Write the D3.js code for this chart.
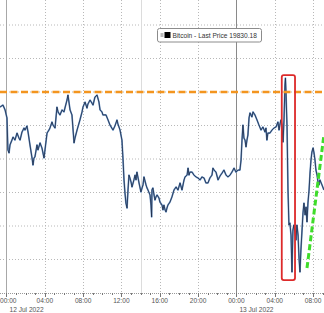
<!DOCTYPE html>
<html>
<head>
<meta charset="utf-8">
<script src="https://cdn.jsdelivr.net/npm/d3@7"></script>
<style>
  html, body { margin: 0; padding: 0; background: #fff; }
  svg { display: block; }
</style>
</head>
<body>
<div id="chart"></div>
<script>
// minutes after 12 Jul 2022 00:00 and Bitcoin last price
const minutes = [-41,-22,-9,3,9,16,22,34,41,53,66,78,85,97,110,116,128,135,147,160,166,172,178,191,197,210,222,235,241,254,266,272,285,291,304,316,323,335,348,360,366,379,385,398,410,423,429,442,460,473,479,492,504,510,523,535,542,554,567,579,586,598,604,623,636,648,667,679,692,698,711,717,723,730,736,742,748,755,761,767,773,780,786,798,805,811,817,824,830,842,849,855,861,874,880,886,899,905,909,911,917,924,930,936,943,955,961,974,980,986,993,999,1005,1011,1024,1036,1049,1062,1074,1087,1099,1112,1118,1131,1137,1143,1149,1162,1174,1187,1199,1212,1224,1237,1249,1262,1274,1287,1293,1300,1312,1325,1337,1350,1362,1375,1387,1400,1412,1425,1437,1450,1462,1469,1475,1481,1487,1494,1500,1506,1512,1519,1525,1537,1544,1556,1569,1581,1594,1606,1619,1625,1631,1637,1650,1663,1675,1688,1700,1707,1713,1719,1725,1732,1738,1744,1747,1750,1757,1763,1769,1775,1782,1788,1794,1800,1807,1813,1819,1826,1832,1838,1844,1851,1857,1863,1870,1876,1882,1888,1895,1901,1907,1913,1920,1926,1932,1938,1945,1951,1957,1963,1976,1988];
const prices = [19910,19922,19893,19845,19654,19636,19684,19713,19731,19713,19755,19725,19713,19761,19785,19773,19797,19761,19684,19606,19564,19606,19612,19684,19654,19696,19666,19606,19654,19755,19773,19785,19821,19803,19785,19910,19881,19863,19893,19881,19904,19952,19982,19893,19863,19696,19725,19773,19833,19881,19910,19940,19904,19928,19952,19934,19922,19970,19982,19940,19893,19881,19863,19863,19833,19803,19773,19797,19833,19809,19773,19743,19713,19594,19475,19397,19337,19307,19415,19504,19487,19463,19433,19475,19504,19475,19522,19487,19457,19403,19427,19445,19493,19445,19427,19415,19385,19325,19254,19415,19427,19385,19355,19373,19385,19367,19343,19325,19296,19325,19296,19284,19307,19325,19343,19373,19415,19433,19415,19457,19415,19475,19493,19504,19546,19504,19522,19522,19504,19493,19487,19475,19493,19487,19457,19457,19487,19504,19546,19534,19522,19475,19498,19516,19534,19504,19493,19504,19522,19546,19522,19534,19534,19594,19713,19803,19725,19713,19672,19713,19743,19845,19875,19851,19881,19863,19833,19803,19773,19791,19761,19785,19713,19755,19755,19773,19785,19791,19821,19773,19809,19833,19803,19701,19833,20042,20083,20012,19791,19415,19206,19218,19146,18925,19176,19206,19164,19116,19206,19146,19009,18925,19057,19176,19278,19337,19266,19313,19224,19337,19415,19516,19594,19642,19666,19636,19594,19534,19504,19463,19445,19475,19445,19415];

const priceTicks = [19000, 19200, 19400, 19600, 19800, 20000, 20200, 20400];
const dayLabels = ["12 Jul 2022", "13 Jul 2022"];
const resistance = 20000;
const trendLine = [[1882, 18949], [1988, 19743]];
const highlight = { from: 1724, to: 1807, low: 18877, high: 20101 };
const markerMinutes = [840];
const legendText = "Bitcoin - Last Price 19830.18";

const width = 324, height = 313;
const t0 = Date.UTC(2022, 6, 12);
const toDate = m => new Date(t0 + m * 60000);

const x = d3.scaleUtc()
    .domain([toDate(-40.7), toDate(1988.5)])
    .range([0, width]);
const y = d3.scaleLinear()
    .domain([18800, 20400])
    .range([293, 25]);

const svg = d3.select("#chart").append("svg")
    .attr("width", width)
    .attr("height", height);

// horizontal grid
svg.selectAll(".hgrid")
    .data(priceTicks)
    .enter().append("line")
    .attr("x1", 0).attr("x2", width)
    .attr("y1", d => y(d)).attr("y2", d => y(d))
    .attr("stroke", "#b8b8b8")
    .attr("stroke-dasharray", "1,2");

// vertical grid, solid at day change
const hourTicks = x.ticks(d3.utcHour.every(4));
svg.selectAll(".vgrid")
    .data(hourTicks)
    .enter().append("line")
    .attr("x1", d => Math.round(x(d)) + 0.5).attr("x2", d => Math.round(x(d)) + 0.5)
    .attr("y1", 0).attr("y2", 293)
    .attr("stroke", d => d.getUTCHours() === 0 ? (d.getUTCDate() === 12 ? "#a8a8a8" : "#8a8a8a") : "#b8b8b8")
    .attr("stroke-dasharray", d => d.getUTCHours() === 0 ? null : "1,2");

svg.selectAll(".marker")
    .data(markerMinutes)
    .enter().append("line")
    .attr("x1", d => Math.round(x(toDate(d))) + 0.5).attr("x2", d => Math.round(x(toDate(d))) + 0.5)
    .attr("y1", 0).attr("y2", 293)
    .attr("stroke", "#dcdcdc");

// x axis
svg.append("line")
    .attr("x1", 0).attr("x2", width)
    .attr("y1", 293.5).attr("y2", 293.5)
    .attr("stroke", "#999")
    .attr("stroke-dasharray", "1,1");

svg.selectAll(".minor")
    .data(x.ticks(d3.utcHour.every(1)))
    .enter().append("line")
    .attr("x1", d => Math.round(x(d)) + 0.5).attr("x2", d => Math.round(x(d)) + 0.5)
    .attr("y1", 293).attr("y2", d => d.getUTCHours() % 4 === 0 ? 297 : 295)
    .attr("stroke", "#777");

// first label would run off the left edge, so pin it there
svg.selectAll(".tlabel")
    .data(hourTicks)
    .enter().append("text")
    .attr("x", (d, i) => i === 0 ? 0 : x(d))
    .attr("y", 302.5)
    .attr("text-anchor", (d, i) => i === 0 ? "start" : "middle")
    .attr("font-family", "Liberation Sans, Arial, sans-serif")
    .attr("font-size", 6.6)
    .attr("fill", "#555")
    .text(d3.utcFormat("%H:%M"));

svg.selectAll(".dlabel")
    .data(hourTicks.filter(d => d.getUTCHours() === 0))
    .enter().append("text")
    .attr("x", d => x(d) + 3)
    .attr("y", 311.5)
    .attr("font-family", "Liberation Sans, Arial, sans-serif")
    .attr("font-size", 6.6)
    .attr("fill", "#555")
    .text((d, i) => dayLabels[i]);

// price line
const data = minutes.map((m, i) => ({ date: toDate(m), price: prices[i] }));
const line = d3.line()
    .x(d => x(d.date))
    .y(d => y(d.price));

svg.append("path")
    .datum(data)
    .attr("d", line)
    .attr("fill", "none")
    .attr("stroke", "#6f97c8")
    .attr("stroke-width", 1.7)
    .attr("stroke-linejoin", "round");

svg.append("path")
    .datum(data)
    .attr("d", line)
    .attr("fill", "none")
    .attr("stroke", "#1a2946")
    .attr("stroke-width", 0.8)
    .attr("stroke-linejoin", "round");

// annotations
svg.append("line")
    .attr("x1", 0).attr("x2", width)
    .attr("y1", y(resistance)).attr("y2", y(resistance))
    .attr("stroke", "#f3951f")
    .attr("stroke-width", 2.6)
    .attr("stroke-dasharray", "7,3.5");

svg.append("rect")
    .attr("x", x(toDate(highlight.from)))
    .attr("y", y(highlight.high))
    .attr("width", x(toDate(highlight.to)) - x(toDate(highlight.from)))
    .attr("height", y(highlight.low) - y(highlight.high))
    .attr("rx", 2)
    .attr("fill", "none")
    .attr("stroke", "#dd2a2a")
    .attr("stroke-width", 1.8);

svg.append("line")
    .attr("x1", x(toDate(trendLine[0][0]))).attr("y1", y(trendLine[0][1]))
    .attr("x2", x(toDate(trendLine[1][0]))).attr("y2", y(trendLine[1][1]))
    .attr("stroke", "#3fdc2a")
    .attr("stroke-width", 3)
    .attr("stroke-dasharray", "6,3");

// legend
const lg = svg.append("g").attr("transform", "translate(157.5,28.5)");
lg.append("rect")
    .attr("width", 104).attr("height", 13.5)
    .attr("rx", 2)
    .attr("fill", "#fff")
    .attr("stroke", "#8c8c8c");
lg.append("rect")
    .attr("x", 3).attr("y", 4.5).attr("width", 3).attr("height", 4)
    .attr("fill", "#bbb");
lg.append("rect")
    .attr("x", 7).attr("y", 3.5).attr("width", 6).attr("height", 6)
    .attr("fill", "#000");
lg.append("text")
    .attr("x", 15).attr("y", 9.3)
    .attr("font-family", "Liberation Sans, Arial, sans-serif")
    .attr("font-size", 6.6)
    .attr("fill", "#333")
    .text(legendText);
</script>
</body>
</html>
